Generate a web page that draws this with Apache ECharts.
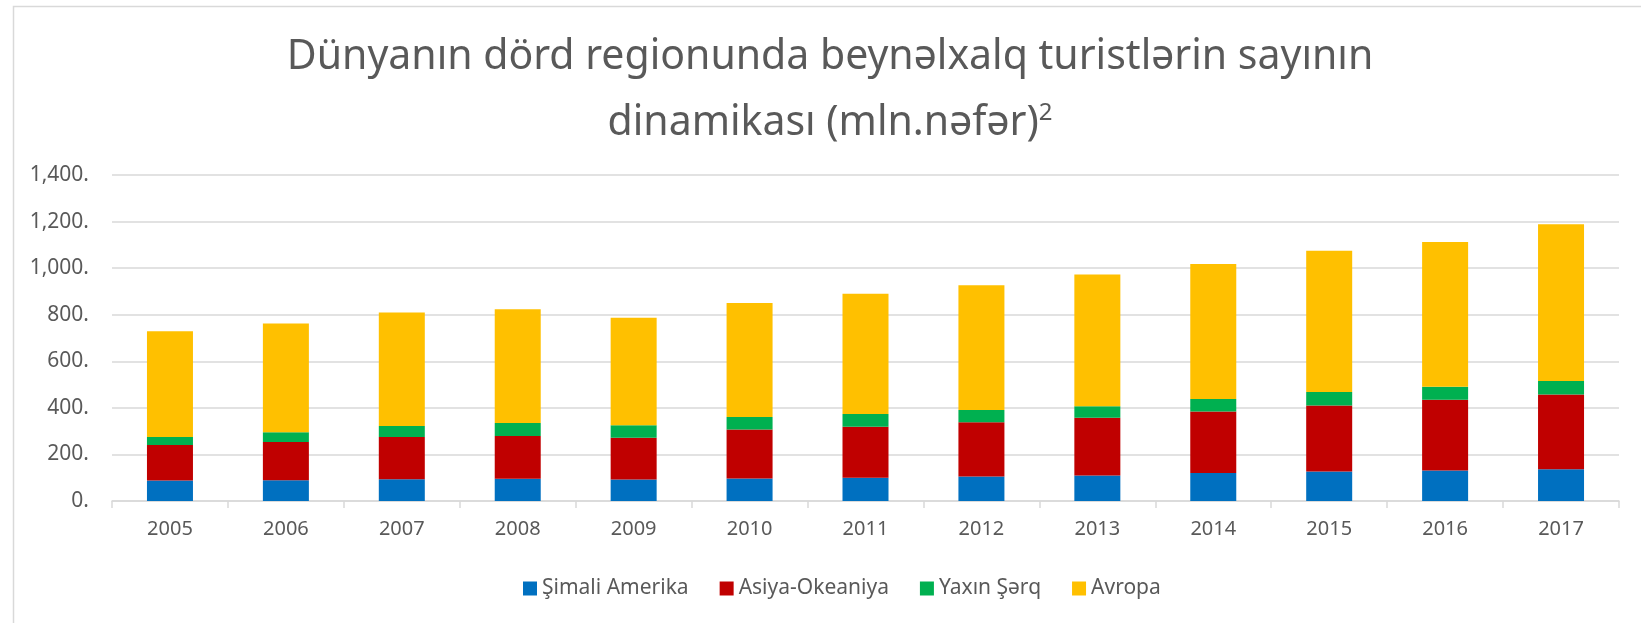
<!DOCTYPE html>
<html>
<head>
<meta charset="utf-8">
<script src="https://cdn.jsdelivr.net/npm/echarts@6/dist/echarts.min.js"></script>
<style>
  html, body { margin: 0; padding: 0; background: #fff; }
  #chart { width: 1641px; height: 623px; }
</style>
</head>
<body>
<div id="chart"></div>
<script>
var years = ['2005', '2006', '2007', '2008', '2009', '2010', '2011', '2012', '2013', '2014', '2015', '2016', '2017']
var simaliAmerika = [88, 89, 93, 96, 92, 97, 100, 105, 110, 120, 127, 131, 136]
var asiyaOkeaniya = [153, 164, 182, 183, 180, 210, 219, 233, 248, 264, 283, 304, 321]
var yaxinSerq = [34, 42, 47, 56, 53, 54, 55, 53, 49, 54, 58, 56, 58]
var avropa = [454, 467, 487, 488, 462, 489, 516, 535, 566, 580, 607, 621, 673]

var textColor = '#595959'
var font = 'Noto Sans'

var chart = echarts.init(document.getElementById('chart'))

var fmt = function (v) {
  return String(v).replace(/(\d)(?=(\d{3})+$)/g, '$1,') + '.'
}

var bar = function (name, data, color) {
  return {
    name: name,
    type: 'bar',
    stack: 'total',
    barWidth: 46,
    data: data,
    itemStyle: { color: color }
  }
}

chart.setOption({
  animation: false,
  title: {
    text: 'Dünyanın dörd regionunda beynəlxalq turistlərin sayının\n{a|dinamikası (mln.nəfər)}{s|2}',
    left: 830,
    top: 24,
    padding: 0,
    textAlign: 'center',
    textStyle: {
      fontFamily: font,
      fontSize: 41,
      fontWeight: 'normal',
      color: textColor,
      lineHeight: 66,
      rich: {
        a: { fontFamily: font, fontSize: 41, color: textColor, lineHeight: 66 },
        s: { fontFamily: font, fontSize: 24, color: textColor, lineHeight: 66, padding: [0, 0, 20, 0] }
      }
    }
  },
  graphic: [{
    type: 'rect',
    left: 11,
    top: 4,
    shape: { width: 1700, height: 700 },
    style: { fill: 'none', stroke: '#d9d9d9', lineWidth: 1.5 },
    silent: true
  }],
  legend: {
    left: 518,
    top: 573,
    itemWidth: 14,
    itemHeight: 14,
    itemGap: 31,
    icon: 'rect',
    textStyle: { fontFamily: font, fontSize: 21, color: textColor },
    data: ['Şimali Amerika', 'Asiya-Okeaniya', 'Yaxın Şərq', 'Avropa']
  },
  grid: {
    left: 112,
    right: 22,
    top: 175,
    bottom: 122
  },
  xAxis: {
    type: 'category',
    data: years,
    axisLine: { lineStyle: { color: '#d9d9d9', width: 1.5 } },
    axisTick: { show: true, length: 7, lineStyle: { color: '#d9d9d9', width: 1.5 } },
    axisLabel: { fontFamily: font, fontSize: 20, color: textColor, margin: 18 }
  },
  yAxis: {
    type: 'value',
    min: 0,
    max: 1400,
    interval: 200,
    axisLine: { show: false },
    axisTick: { show: false },
    splitLine: { lineStyle: { color: '#d9d9d9', width: 1.5 } },
    axisLabel: { fontFamily: font, fontSize: 21, color: textColor, margin: 23, formatter: fmt }
  },
  series: [
    bar('Şimali Amerika', simaliAmerika, '#0070C0'),
    bar('Asiya-Okeaniya', asiyaOkeaniya, '#C00000'),
    bar('Yaxın Şərq', yaxinSerq, '#00B050'),
    bar('Avropa', avropa, '#FFC000')
  ]
})
</script>
</body>
</html>
